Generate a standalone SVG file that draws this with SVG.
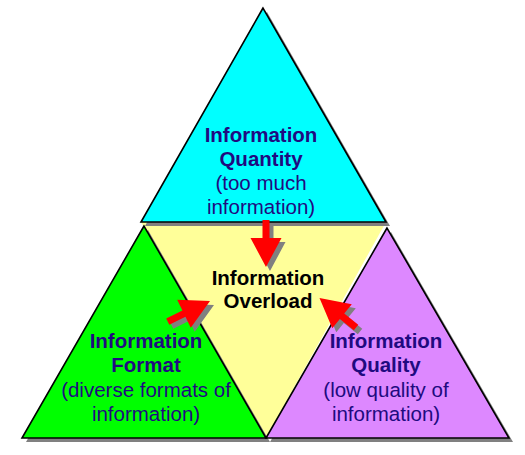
<svg xmlns="http://www.w3.org/2000/svg" width="525" height="455" viewBox="0 0 525 455">
<defs>
<style>
.tri{stroke:#000;stroke-width:1.6;stroke-linejoin:miter}
.sh{fill:#808080}
.t{font-family:"Liberation Sans",Arial,sans-serif;font-size:20.5px;text-anchor:middle;fill:#200a80}
.b{font-weight:bold}
.blk{fill:#000}
.arr{fill:#ff0000}
</style>
<path id="arrow" d="M0,0 L-29,-15.5 L-29,-3.5 L-47,-3.5 L-47,3.5 L-29,3.5 L-29,15.5 Z"/>
</defs>
<rect width="525" height="455" fill="#fff"/>
<g id="overload">
<polygon points="141,222 386,222 266,438" fill="#ffff99"/>
<text class="t b blk" x="268" y="285">Information</text>
<text class="t b blk" x="268" y="308">Overload</text>
</g>
<g id="quantity">
<polygon class="sh" points="267,12 145,226 390,226"/>
<polygon class="tri" points="263,8 141,222 386,222" fill="#00ffff"/>
<text class="t b" x="261" y="142">Information</text>
<text class="t b" x="261" y="166">Quantity</text>
<text class="t" x="261" y="190">(too much</text>
<text class="t" x="261" y="214">information)</text>
</g>
<g id="format">
<polygon class="sh" points="148,230 26,442 270,442"/>
<polygon class="tri" points="144,226 22,438 266,438" fill="#00ff00"/>
<text class="t b" x="146" y="348">Information</text>
<text class="t b" x="146" y="372">Format</text>
<text class="t" x="146" y="397">(diverse formats of</text>
<text class="t" x="146" y="421">information)</text>
</g>
<g id="quality">
<polygon class="sh" points="391,232 270,442 513,442"/>
<polygon class="tri" points="387,228 266,438 509,438" fill="#dd88ff"/>
<text class="t b" x="386" y="348">Information</text>
<text class="t b" x="386" y="372">Quality</text>
<text class="t" x="386" y="397">(low quality of</text>
<text class="t" x="386" y="421">information)</text>
</g>
<g id="connectors">
<use href="#arrow" class="sh" transform="translate(270,271) rotate(90)"/>
<use href="#arrow" class="arr" transform="translate(266,267) rotate(90)"/>
<use href="#arrow" class="sh" transform="translate(214,305) rotate(-26)"/>
<use href="#arrow" class="arr" transform="translate(210,301) rotate(-26)"/>
<use href="#arrow" class="sh" transform="translate(323.5,302) rotate(219)"/>
<use href="#arrow" class="arr" transform="translate(319.5,298) rotate(219)"/>
</g>
</svg>
